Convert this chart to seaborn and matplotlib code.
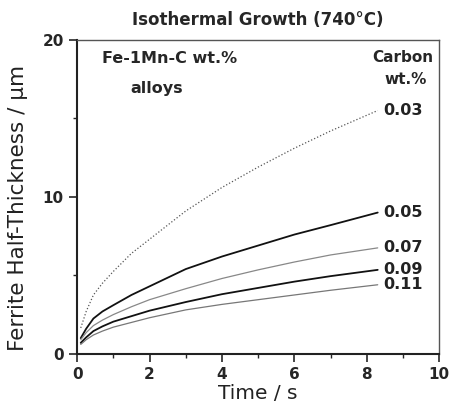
import pandas as pd
import seaborn as sns
import matplotlib.pyplot as plt

# values (time in s, half-thickness in um)
time = [0.1, 0.25, 0.45, 0.7, 1.0, 1.5, 2.0, 3.0, 4.0, 5.0, 6.0, 7.0, 8.3]
c003 = [1.65, 2.7, 3.75, 4.5, 5.25, 6.4, 7.3, 9.1, 10.6, 11.9, 13.1, 14.2, 15.5]
c005 = [1.0, 1.6, 2.25, 2.7, 3.1, 3.75, 4.3, 5.4, 6.2, 6.9, 7.6, 8.2, 9.0]
c007 = [0.9, 1.35, 1.8, 2.15, 2.5, 3.0, 3.45, 4.15, 4.8, 5.35, 5.85, 6.3, 6.75]
c009 = [0.7, 1.05, 1.45, 1.75, 2.05, 2.4, 2.75, 3.3, 3.8, 4.2, 4.6, 4.95, 5.35]
c011 = [0.6, 0.9, 1.2, 1.45, 1.7, 2.0, 2.3, 2.8, 3.15, 3.45, 3.75, 4.05, 4.4]
carbon = ['0.03', '0.05', '0.07', '0.09', '0.11']
series = [c003, c005, c007, c009, c011]

rows = []
for c, ys in zip(carbon, series):
    for t, y in zip(time, ys):
        rows.append((c, t, y))
df = pd.DataFrame(rows, columns=['carbon', 'time', 'thickness'])

sns.set_style('ticks')
plt.rcParams['font.family'] = ['DejaVu Sans']

fig = plt.figure(figsize=(4.51, 4.03), dpi=100)
ax = fig.add_axes([0.171, 0.122, 0.803, 0.779])

styles = {'0.03': ('#555555', 0.9, ':'),
          '0.05': ('#111111', 1.3, '-'),
          '0.07': ('#888888', 0.9, '-'),
          '0.09': ('#111111', 1.3, '-'),
          '0.11': ('#777777', 0.9, '-')}
label_y = {'0.03': 15.5, '0.05': 9.0, '0.07': 6.8, '0.09': 5.4, '0.11': 4.4}

for c in carbon:
    d = df[df['carbon'] == c]
    col, lw, ls = styles[c]
    sns.lineplot(data=d, x='time', y='thickness', ax=ax, color=col,
                 linewidth=lw, linestyle=ls, legend=False)
    ax.text(8.45, label_y[c], c, fontsize=11.5, fontweight='bold',
            va='center', ha='left', color='#222222')

ax.set_xlim(0, 10)
ax.set_ylim(0, 20)
ax.set_xticks([0, 2, 4, 6, 8, 10])
ax.set_xticks([1, 3, 5, 7, 9], minor=True)
ax.set_yticks([0, 10, 20])
ax.set_yticks([5, 15], minor=True)
ax.tick_params(axis='both', which='major', labelsize=11, length=6,
               width=1.2, direction='out')
ax.tick_params(axis='both', which='minor', length=3, width=1.0,
               direction='out')
for lab in ax.get_xticklabels() + ax.get_yticklabels():
    lab.set_fontweight('bold')

for side in ['left', 'bottom']:
    ax.spines[side].set_linewidth(1.5)
    ax.spines[side].set_color('#222222')
for side in ['top', 'right']:
    ax.spines[side].set_visible(True)
    ax.spines[side].set_linewidth(1.0)
    ax.spines[side].set_color('#555555')

ax.set_xlabel('Time / s', fontsize=14.5, color='#222222')
ax.xaxis.set_label_coords(0.5, -0.095)
ax.set_ylabel('Ferrite Half-Thickness / µm', fontsize=15.5, color='#222222')
ax.yaxis.set_label_coords(-0.135, 0.465)
ax.set_title('Isothermal Growth (740°C)', fontsize=12,
             fontweight='bold', pad=11)

ax.text(0.07, 0.94, 'Fe-1Mn-C wt.%', transform=ax.transAxes,
        fontsize=11.5, fontweight='bold', va='center', ha='left')
ax.text(0.148, 0.845, 'alloys', transform=ax.transAxes,
        fontsize=11.5, fontweight='bold', va='center', ha='left')
ax.text(0.985, 0.944, 'Carbon', transform=ax.transAxes,
        fontsize=11, fontweight='bold', va='center', ha='right')
ax.text(0.965, 0.875, 'wt.%', transform=ax.transAxes,
        fontsize=11, fontweight='bold', va='center', ha='right')

fig.savefig('out.png', dpi=100)
